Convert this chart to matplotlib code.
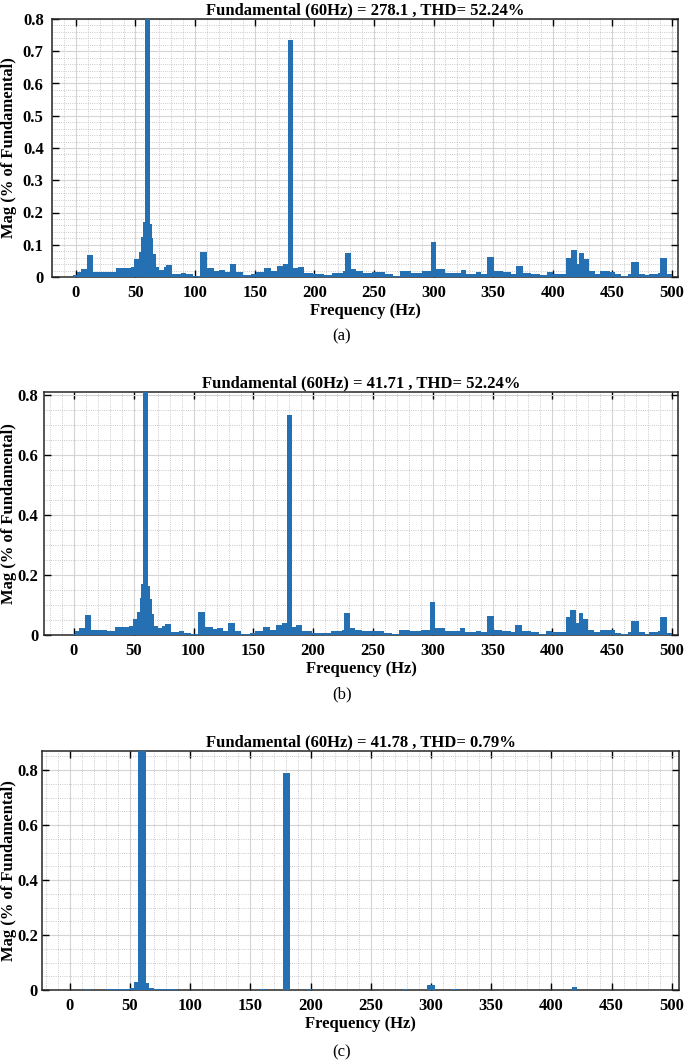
import numpy as np
import matplotlib.pyplot as plt
from matplotlib import ticker

plt.rcParams["font.family"] = ["Liberation Serif", "DejaVu Serif"]

# spectrum: bin edges (Hz) and magnitude (% of fundamental)
edges_a = [-2, 1, 4, 9, 14, 22, 28, 34, 46, 49, 53, 55, 56.5, 58, 62, 63.5, 65, 67, 70,
           74, 76, 81, 88, 92, 98, 104, 110, 116, 120, 125, 129, 134.5, 140, 147, 151,
           158, 164, 169, 174, 178, 182, 186, 191, 199, 208, 215, 224, 226, 230.5, 235,
           241, 248, 259, 266, 272, 281, 290, 298, 302, 310, 318, 323, 327, 336, 340,
           345, 351, 358, 365, 369, 375, 382, 389, 395, 400, 411, 415, 420, 422, 426,
           430, 435, 440, 448, 452, 457, 463, 466, 472, 477, 481, 488, 490, 496, 500]
mag_a = [0.005, 0.015, 0.025, 0.068, 0.017, 0.016, 0.015, 0.027, 0.03, 0.055, 0.078,
         0.125, 0.17, 100, 0.165, 0.12, 0.07, 0.03, 0.022, 0.03, 0.037, 0.01, 0.012,
         0.008, 0.004, 0.078, 0.028, 0.02, 0.022, 0.015, 0.04, 0.015, 0.005, 0.008,
         0.015, 0.028, 0.018, 0.035, 0.04, 0.735, 0.027, 0.032, 0.012, 0.008, 0.007,
         0.012, 0.018, 0.075, 0.025, 0.018, 0.013, 0.014, 0.008, 0.004, 0.018, 0.013,
         0.018, 0.11, 0.025, 0.013, 0.012, 0.022, 0.01, 0.015, 0.01, 0.063, 0.018,
         0.015, 0.01, 0.035, 0.012, 0.01, 0.005, 0.015, 0.01, 0.06, 0.085, 0.04, 0.075,
         0.055, 0.018, 0.01, 0.018, 0.016, 0.008, 0.003, 0.01, 0.047, 0.01, 0.005,
         0.01, 0.012, 0.06, 0.008]

# (b) shows the same spectrum as (a)
edges_b = list(edges_a)
mag_b = list(mag_a)

edges_c = [13, 17, 30, 50, 53.5, 56.5, 63.5, 66, 70, 72, 90, 158, 162, 177, 183, 197,
           201, 277, 281, 297, 303, 317, 322, 417, 421]
mag_c = [0.002, 0, 0.005, 0.008, 0.028, 100, 0.027, 0.008, 0.003, 0.004, 0, 0.002, 0,
         0.79, 0, 0.003, 0, 0.002, 0, 0.017, 0, 0.004, 0, 0.01]

titles = ["Fundamental (60Hz) = 278.1 , THD= 52.24%",
          "Fundamental (60Hz) = 41.71 , THD= 52.24%",
          "Fundamental (60Hz) = 41.78 , THD= 0.79%"]
captions = ["(a)", "(b)", "(c)"]
x_ticks = [0, 50, 100, 150, 200, 250, 300, 350, 400, 450, 500]

BLUE = "#2470b3"

fig = plt.figure(figsize=(6.85, 10.62), dpi=100)
W, H = 685, 1062


def px_axes(left, top, right, bottom):
    return fig.add_axes([left / W, 1 - bottom / H, (right - left) / W, (bottom - top) / H])


panels = [
    (px_axes(52, 19, 678, 277), edges_a, mag_a, (-20, 505), 0.8, 0.1, 0.02, 336, 6),
    (px_axes(44, 392, 678, 635), edges_b, mag_b, (-25, 505), 0.81, 0.2, 0.05, 694, 4),
    (px_axes(42, 751, 679, 990), edges_c, mag_c, (-23, 506), 0.87, 0.2, 0.05, 1052, 3),
]

for i, (ax, edges, mags, xlim, ytop, ymaj, ymin, cap_y, ypad) in enumerate(panels):
    e = np.array(edges, dtype=float)
    ax.bar(e[:-1], mags, width=np.diff(e), align="edge", color=BLUE, linewidth=0, zorder=3)
    ax.set_xlim(*xlim)
    ax.set_ylim(0, ytop)
    ax.set_xticks(x_ticks)
    ax.yaxis.set_major_locator(ticker.MultipleLocator(ymaj))
    ax.xaxis.set_minor_locator(ticker.MultipleLocator(10))
    ax.yaxis.set_minor_locator(ticker.MultipleLocator(ymin))
    ax.yaxis.set_major_formatter(ticker.FuncFormatter(lambda v, _: f"{v:g}"))
    ax.grid(True, which="major", color="#d4d4d4", linewidth=0.8, zorder=0)
    ax.grid(True, which="minor", color="#b8b8b8", linestyle=":", linewidth=0.6, zorder=0)
    ax.set_axisbelow(True)
    ax.tick_params(which="major", direction="in", length=5, width=1, top=True, right=True,
                   labelsize=12)
    ax.tick_params(axis="x", pad=6)
    ax.tick_params(axis="y", pad=ypad)
    ax.tick_params(which="minor", length=0)
    for lab in ax.get_xticklabels() + ax.get_yticklabels():
        lab.set_fontweight("bold")
    for sp in ax.spines.values():
        sp.set_linewidth(1.1)
        sp.set_color("#262626")
    ax.set_title(titles[i], fontsize=12, fontweight="bold", pad=3)
    ax.set_xlabel("Frequency (Hz)", fontsize=12, fontweight="bold", labelpad=1)
    ax.set_ylabel("Mag (% of Fundamental)", fontsize=12, fontweight="bold")
    # keep the y label at the same place from the figure edge on every panel
    left_px = ax.get_position().x0 * W
    width_px = ax.get_position().width * W
    ax.yaxis.set_label_coords((17 - left_px) / width_px, 0.5)
    fig.text(342 / W, 1 - cap_y / H, captions[i], fontsize=12, ha="center", va="center")

fig.savefig("out.png", dpi=100)
